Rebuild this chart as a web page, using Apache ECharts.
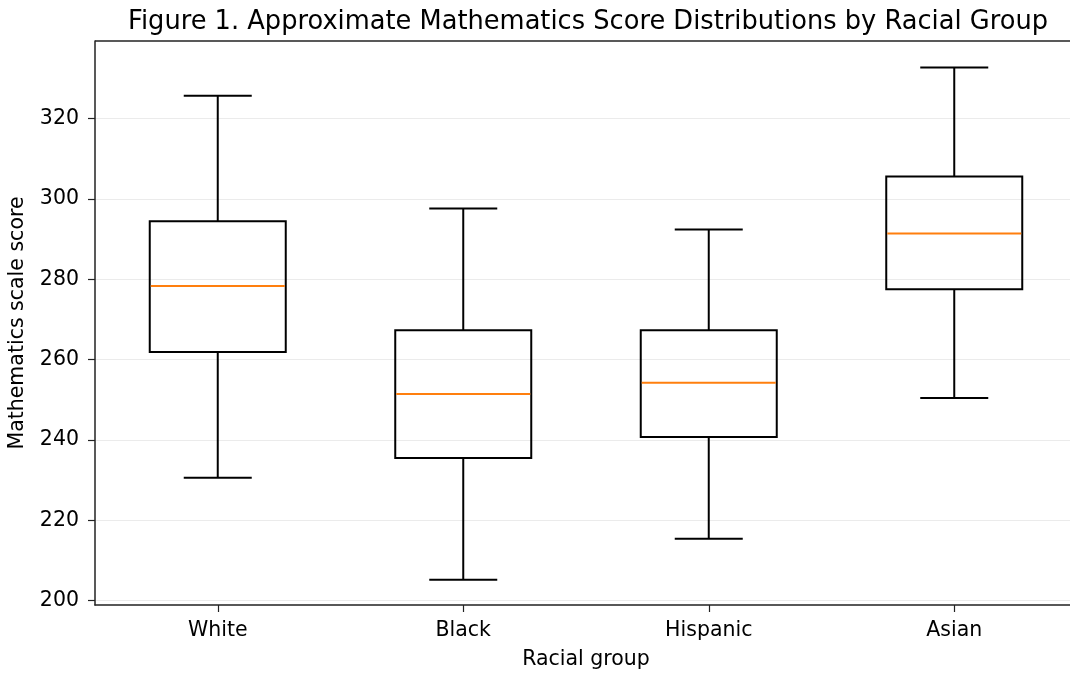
<!DOCTYPE html>
<html>
<head>
<meta charset="utf-8">
<script src="https://cdn.jsdelivr.net/npm/echarts@6/dist/echarts.min.js"></script>
<style>
html,body{margin:0;padding:0;background:#fff;}
#chart{width:1070px;height:675px;}
</style>
</head>
<body>
<div id="chart"></div>
<script>
const categories = ['White', 'Black', 'Hispanic', 'Asian'];
const whiskerLow = [230.6, 205.2, 215.4, 250.4];
const q1Values = [261.9, 235.5, 240.7, 277.5];
const medians = [278.3, 251.4, 254.2, 291.4];
const q3Values = [294.4, 267.3, 267.3, 305.6];
const whiskerHigh = [325.7, 297.6, 292.4, 332.7];
const yTicks = [200, 220, 240, 260, 280, 300, 320];

const data = categories.map((c, i) => [i, whiskerLow[i], q1Values[i], medians[i], q3Values[i], whiskerHigh[i]]);

const FONT = 'DejaVu Sans';
const chart = echarts.init(document.getElementById('chart'), null, {renderer: 'canvas'});

function renderBox(params, api) {
  const x = api.value(0);
  const pLo = api.coord([x, api.value(1)]);
  const pQ1 = api.coord([x, api.value(2)]);
  const pMed = api.coord([x, api.value(3)]);
  const pQ3 = api.coord([x, api.value(4)]);
  const pHi = api.coord([x, api.value(5)]);
  const band = api.size([1, 0])[0];
  const bw = band * 0.554;
  const cw = bw / 2;
  const cx = pQ1[0];
  const black = {stroke: '#000', lineWidth: 2, fill: null};
  return {
    type: 'group',
    children: [
      {type: 'line', shape: {x1: cx, y1: pQ1[1], x2: cx, y2: pLo[1]}, style: black},
      {type: 'line', shape: {x1: cx, y1: pQ3[1], x2: cx, y2: pHi[1]}, style: black},
      {type: 'line', shape: {x1: cx - cw / 2, y1: pLo[1], x2: cx + cw / 2, y2: pLo[1]}, style: black},
      {type: 'line', shape: {x1: cx - cw / 2, y1: pHi[1], x2: cx + cw / 2, y2: pHi[1]}, style: black},
      {type: 'rect', shape: {x: cx - bw / 2, y: pQ3[1], width: bw, height: pQ1[1] - pQ3[1]}, style: {stroke: '#000', lineWidth: 2, fill: 'none'}},
      {type: 'line', shape: {x1: cx - bw / 2 + 1, y1: pMed[1], x2: cx + bw / 2 - 1, y2: pMed[1]}, style: {stroke: '#ff7f0e', lineWidth: 2}}
    ]
  };
}

chart.setOption({
  animation: false,
  backgroundColor: '#fff',
  title: {
    text: 'Figure 1. Approximate Mathematics Score Distributions by Racial Group',
    left: 583, top: 4, textAlign: 'center',
    textStyle: {fontFamily: FONT, fontSize: 25.7, fontWeight: 'normal', color: '#000'}
  },
  grid: {left: 95, top: 41, width: 982, bottom: 70, show: false, outerBoundsMode: 'none', containLabel: false},
  xAxis: {
    type: 'category',
    data: categories,
    boundaryGap: true,
    name: 'Racial group',
    nameLocation: 'middle',
    nameGap: 44,
    nameTextStyle: {fontFamily: FONT, fontSize: 20.5, color: '#000'},
    axisLine: {show: true, lineStyle: {color: '#222', width: 1.5}},
    axisTick: {show: true, alignWithLabel: true, length: 7, lineStyle: {color: '#222', width: 1.2}},
    axisLabel: {fontFamily: FONT, fontSize: 20.5, color: '#000', margin: 15},
    splitLine: {show: false}
  },
  yAxis: [{
    type: 'value',
    min: 198.9, max: 339.3,
    name: 'Mathematics scale score',
    nameLocation: 'middle',
    nameGap: 67,
    nameTextStyle: {fontFamily: FONT, fontSize: 20.5, color: '#000'},
    axisLine: {show: true, onZero: false, lineStyle: {color: '#222', width: 1.5}},
    axisTick: {show: true, length: 7, customValues: yTicks, lineStyle: {color: '#222', width: 1.2}},
    axisLabel: {fontFamily: FONT, fontSize: 20.5, color: '#000', margin: 16, customValues: yTicks},
    splitLine: {show: true, lineStyle: {color: '#ebebeb', width: 1.2}}
  }],
  graphic: [{
    type: 'line', shape: {x1: 95, y1: 41, x2: 1070, y2: 41},
    style: {stroke: '#222', lineWidth: 1.5}, z: 10
  }],
  series: [{
    type: 'custom',
    renderItem: renderBox,
    encode: {x: 0, y: [1, 2, 3, 4, 5]},
    data: data,
    z: 5
  }]
});
</script>
</body>
</html>
